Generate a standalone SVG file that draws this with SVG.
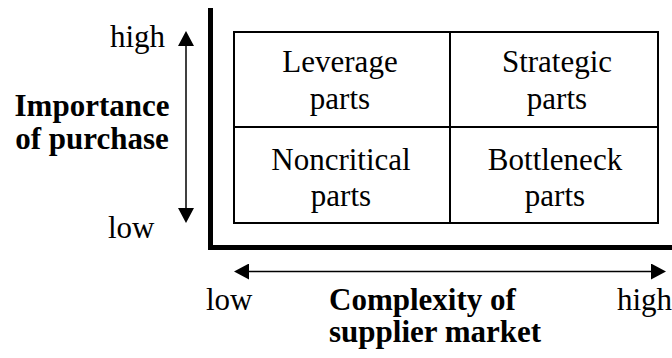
<svg xmlns="http://www.w3.org/2000/svg" width="672" height="358" viewBox="0 0 672 358">
<style>
text{font-family:"Liberation Serif","Times New Roman",serif;font-size:31px;fill:#000}
.b{font-weight:bold}
.m{text-anchor:middle}
.cell{fill:none;stroke:#000;stroke-width:2}
.axis{stroke:#000;stroke-width:5;fill:none}
.arr{stroke:#000;stroke-width:1.5;fill:none}
</style>
<defs>
<marker id="ah" markerUnits="userSpaceOnUse" markerWidth="16" markerHeight="16" viewBox="0 0 15 16" refX="0" refY="8" orient="auto-start-reverse">
<path d="M0,0 L15,8 L0,16 z" fill="#000"/>
</marker>
</defs>
<rect width="672" height="358" fill="#fff"/>
<g id="connectors">
<path class="axis" d="M210.5,8 V247.5 H672"/>
<line class="arr" x1="186" y1="46" x2="186" y2="208" marker-start="url(#ah)" marker-end="url(#ah)"/>
<line class="arr" x1="249" y1="271.5" x2="651" y2="271.5" marker-start="url(#ah)" marker-end="url(#ah)"/>
</g>
<g id="leverage">
<rect class="cell" x="234" y="32" width="216" height="95"/>
<text class="m" x="340" y="72">Leverage</text>
<text class="m" x="340" y="109">parts</text>
</g>
<g id="strategic">
<rect class="cell" x="450" y="32" width="208" height="95"/>
<text class="m" x="557" y="72">Strategic</text>
<text class="m" x="557" y="109">parts</text>
</g>
<g id="noncritical">
<rect class="cell" x="234" y="127" width="216" height="96"/>
<text class="m" x="341" y="170">Noncritical</text>
<text class="m" x="341" y="206">parts</text>
</g>
<g id="bottleneck">
<rect class="cell" x="450" y="127" width="208" height="96"/>
<text class="m" x="555" y="170">Bottleneck</text>
<text class="m" x="555" y="206">parts</text>
</g>
<g id="y-labels">
<text x="110" y="47">high</text>
<text x="108" y="238">low</text>
<text class="b m" x="92" y="116">Importance</text>
<text class="b m" x="92" y="149">of purchase</text>
</g>
<g id="x-labels">
<text x="206" y="310">low</text>
<text x="617" y="310">high</text>
<text class="b" x="329" y="310">Complexity of</text>
<text class="b" x="329" y="342">supplier market</text>
</g>
</svg>
